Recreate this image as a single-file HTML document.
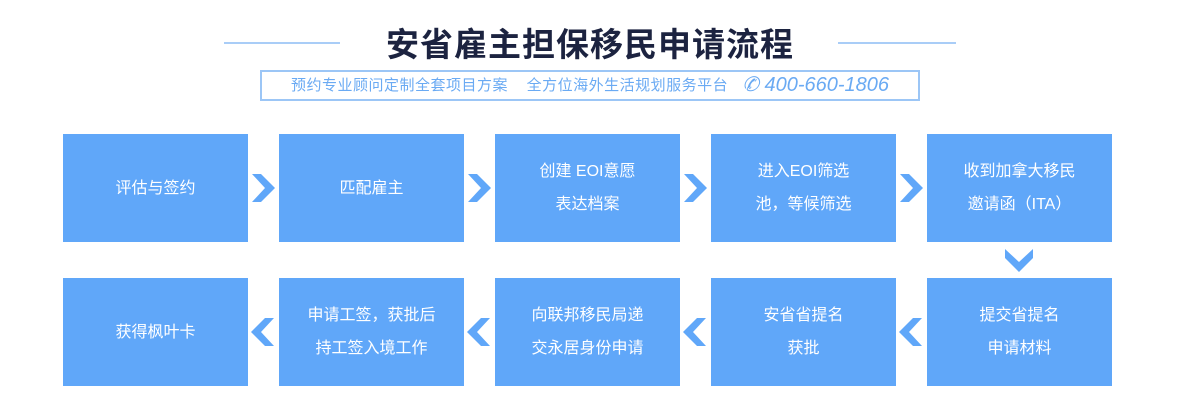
<!DOCTYPE html>
<html><head><meta charset="utf-8"><style>
body{margin:0;width:1180px;height:406px;background:#fff;position:relative;overflow:hidden;font-family:"Liberation Sans","Noto Sans CJK SC",sans-serif}
.t{position:absolute;left:0;width:1180px;top:18px;text-align:center;font-size:33px;font-weight:bold;color:#1c2340;letter-spacing:1px}
.ln{position:absolute;top:42px;height:2px;background:#a9cdf7}
.sub{position:absolute;left:260px;top:70px;width:656px;height:27px;border:2px solid #9cc6f6;color:#6aaaf3;font-size:15px;line-height:27px;text-align:center;letter-spacing:0.5px;white-space:nowrap}
.b{position:absolute;width:185px;height:108px;background:#60a7f9;color:#fff;font-size:16px;display:flex;align-items:center;justify-content:center;text-align:center;line-height:33px}
svg{position:absolute;left:0;top:0}
</style></head><body>
<div class="t">安省雇主担保移民申请流程</div>
<div class="ln" style="left:224px;width:116px"></div>
<div class="ln" style="left:838px;width:118px"></div>
<div class="sub">预约专业顾问定制全套项目方案&nbsp;&nbsp;&nbsp;&nbsp;全方位海外生活规划服务平台 &nbsp;&nbsp;<span style="font-style:italic;font-size:20px;vertical-align:-1px;letter-spacing:0">✆ 400-660-1806</span></div>
<div class="b" style="left:63px;top:134px">评估与签约</div>
<div class="b" style="left:279px;top:134px">匹配雇主</div>
<div class="b" style="left:495px;top:134px">创建 EOI意愿<br>表达档案</div>
<div class="b" style="left:711px;top:134px">进入EOI筛选<br>池，等候筛选</div>
<div class="b" style="left:927px;top:134px">收到加拿大移民<br>邀请函（ITA）</div>
<div class="b" style="left:63px;top:278px">获得枫叶卡</div>
<div class="b" style="left:279px;top:278px">申请工签，获批后<br>持工签入境工作</div>
<div class="b" style="left:495px;top:278px">向联邦移民局递<br>交永居身份申请</div>
<div class="b" style="left:711px;top:278px">安省省提名<br>获批</div>
<div class="b" style="left:927px;top:278px">提交省提名<br>申请材料</div>
<svg width="1180" height="406" fill="#60a7f9">
<g id="r"><polygon points="252,174 261,174 275,188 261,202 252,202 265,188"/></g>
<use href="#r" x="216"/><use href="#r" x="432"/><use href="#r" x="648"/>
<g id="l"><polygon points="274,318 265,318 251,332 265,346 274,346 261,332"/></g>
<use href="#l" x="216"/><use href="#l" x="432"/><use href="#l" x="648"/>
<polygon points="1005,249 1005,258 1019,272 1033,258 1033,249 1019,262"/>
</svg>
</body></html>
